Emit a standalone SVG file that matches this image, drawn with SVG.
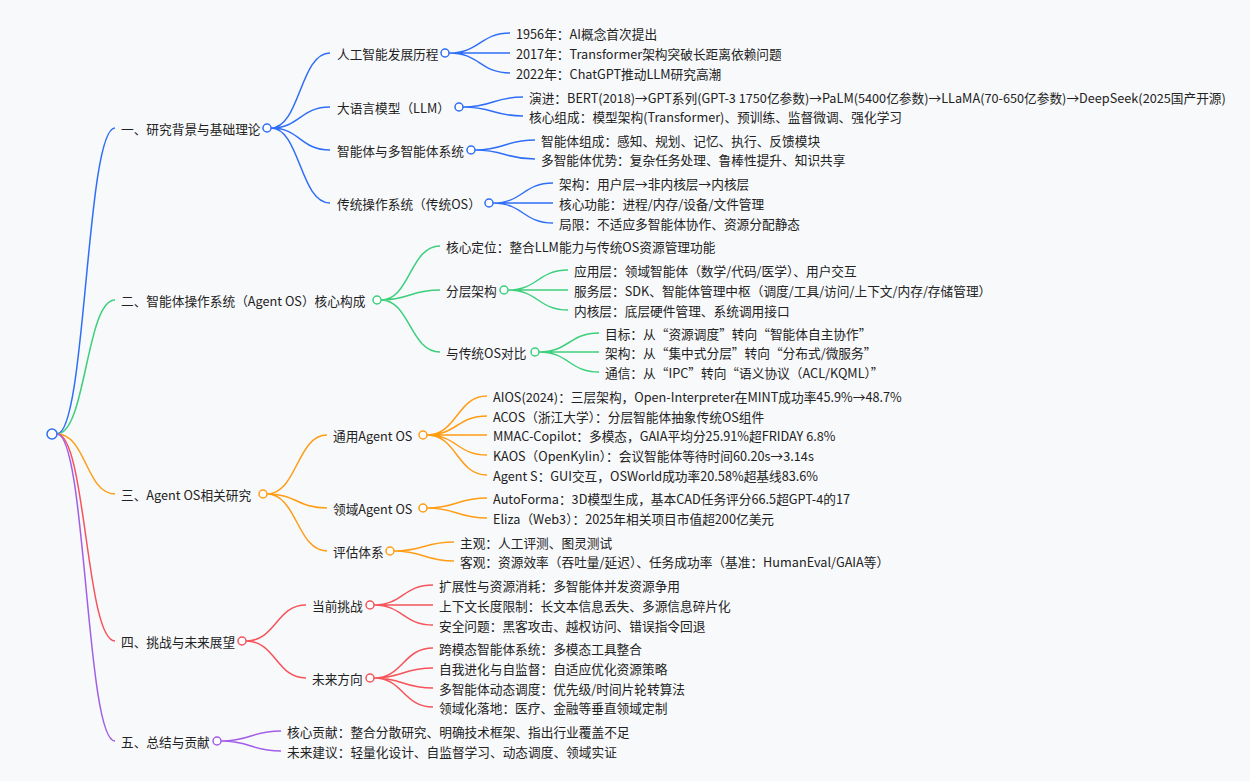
<svg xmlns="http://www.w3.org/2000/svg" width="1250" height="781" viewBox="0 0 1250 781">
<style>
text{font-family:"Microsoft YaHei","Noto Sans CJK SC","Noto Sans",sans-serif;font-size:12.7px;fill:#222;dominant-baseline:central}
path{fill:none;stroke-width:1.5}
circle{fill:#fff;stroke-width:1.5}
.b{stroke:#2f6ef6}.g{stroke:#3ccf7c}.o{stroke:#ff9d14}.r{stroke:#f4545a}.p{stroke:#a25ee8}
</style>
<rect width="1250" height="781" fill="#f8f9fb"/>
<g id="connectors">
<path class="b" d="M57 434C86 434 86 128 115 128"/>
<path class="g" d="M57 434C86 434 86 300 115 300"/>
<path class="o" d="M57 434C86 434 86 494 115 494"/>
<path class="r" d="M57 434C86 434 86 641 115 641"/>
<path class="p" d="M57 434C86 434 86 741 115 741"/>
<path class="b" d="M271 128C300 128 300 53 330 53M271 128C300 128 300 107 330 107M271 128C300 128 300 150 330 150M271 128C300 128 300 203 330 203"/>
<path class="b" d="M449 53C480 53 480 33 510 33M449 53H510M449 53C480 53 480 73 510 73"/>
<path class="b" d="M463 107C493 107 493 97 523 97M463 107C493 107 493 116 523 116"/>
<path class="b" d="M475 150C505 150 505 140 535 140M475 150C505 150 505 159 535 159"/>
<path class="b" d="M493 203C523 203 523 183 553 183M493 203H553M493 203C523 203 523 223 553 223"/>
<path class="g" d="M381 300C410 300 410 246 440 246M381 300C410 300 410 290 440 290M381 300C410 300 410 352 440 352"/>
<path class="g" d="M508 290C538 290 538 270 568 270M508 290H568M508 290C538 290 538 310 568 310"/>
<path class="g" d="M539 352C569 352 569 333 599 333M539 352H599M539 352C569 352 569 372 599 372"/>
<path class="o" d="M267 494C297 494 297 435 327 435M267 494C297 494 297 508 327 508M267 494C297 494 297 551 327 551"/>
<path class="o" d="M427 435C457 435 457 396 487 396M427 435C457 435 457 416 487 416M427 435H487M427 435C457 435 457 455 487 455M427 435C457 435 457 475 487 475"/>
<path class="o" d="M427 508C457 508 457 498 487 498M427 508C457 508 457 518 487 518"/>
<path class="o" d="M394 551C424 551 424 542 454 542M394 551C424 551 424 561 454 561"/>
<path class="r" d="M246 641C276 641 276 605 306 605M246 641C276 641 276 678 306 678"/>
<path class="r" d="M374 605C403 605 403 585 433 585M374 605H433M374 605C403 605 403 625 433 625"/>
<path class="r" d="M374 678C403 678 403 648 433 648M374 678C403 678 403 668 433 668M374 678C403 678 403 688 433 688M374 678C403 678 403 707 433 707"/>
<path class="p" d="M221 741C251 741 251 731 281 731M221 741C251 741 251 751 281 751"/>
</g>
<g id="root"><circle class="b" cx="52" cy="434" r="5"/></g>
<g id="n1"><text x="121" y="128">一、研究背景与基础理论</text><circle class="b" cx="267" cy="128" r="4"/></g>
<g id="n1a"><text x="337" y="53">人工智能发展历程</text><circle class="b" cx="445" cy="53" r="4"/></g>
<g id="n1a1"><text x="516" y="33">1956年：AI概念首次提出</text></g>
<g id="n1a2"><text x="516" y="53">2017年：Transformer架构突破长距离依赖问题</text></g>
<g id="n1a3"><text x="516" y="73">2022年：ChatGPT推动LLM研究高潮</text></g>
<g id="n1b"><text x="337" y="107">大语言模型（LLM）</text><circle class="b" cx="459" cy="107" r="4"/></g>
<g id="n1b1"><text x="529" y="97">演进：BERT(2018)→GPT系列(GPT-3 1750亿参数)→PaLM(5400亿参数)→LLaMA(70-650亿参数)→DeepSeek(2025国产开源)</text></g>
<g id="n1b2"><text x="529" y="116">核心组成：模型架构(Transformer)、预训练、监督微调、强化学习</text></g>
<g id="n1c"><text x="337" y="150">智能体与多智能体系统</text><circle class="b" cx="471" cy="150" r="4"/></g>
<g id="n1c1"><text x="541" y="140">智能体组成：感知、规划、记忆、执行、反馈模块</text></g>
<g id="n1c2"><text x="541" y="159">多智能体优势：复杂任务处理、鲁棒性提升、知识共享</text></g>
<g id="n1d"><text x="337" y="203">传统操作系统（传统OS）</text><circle class="b" cx="489" cy="203" r="4"/></g>
<g id="n1d1"><text x="559" y="183">架构：用户层→非内核层→内核层</text></g>
<g id="n1d2"><text x="559" y="203">核心功能：进程/内存/设备/文件管理</text></g>
<g id="n1d3"><text x="559" y="223">局限：不适应多智能体协作、资源分配静态</text></g>
<g id="n2"><text x="121" y="300">二、智能体操作系统（Agent OS）核心构成</text><circle class="g" cx="377" cy="300" r="4"/></g>
<g id="n2a"><text x="446" y="246">核心定位：整合LLM能力与传统OS资源管理功能</text></g>
<g id="n2b"><text x="446" y="290">分层架构</text><circle class="g" cx="504" cy="290" r="4"/></g>
<g id="n2b1"><text x="574" y="270">应用层：领域智能体（数学/代码/医学）、用户交互</text></g>
<g id="n2b2"><text x="574" y="290">服务层：SDK、智能体管理中枢（调度/工具/访问/上下文/内存/存储管理）</text></g>
<g id="n2b3"><text x="574" y="310">内核层：底层硬件管理、系统调用接口</text></g>
<g id="n2c"><text x="446" y="352">与传统OS对比</text><circle class="g" cx="535" cy="352" r="4"/></g>
<g id="n2c1"><text x="605" y="333">目标：从“资源调度”转向“智能体自主协作”</text></g>
<g id="n2c2"><text x="605" y="352">架构：从“集中式分层”转向“分布式/微服务”</text></g>
<g id="n2c3"><text x="605" y="372">通信：从“IPC”转向“语义协议（ACL/KQML）”</text></g>
<g id="n3"><text x="121" y="494">三、Agent OS相关研究</text><circle class="o" cx="263" cy="494" r="4"/></g>
<g id="n3a"><text x="333" y="435">通用Agent OS</text><circle class="o" cx="423" cy="435" r="4"/></g>
<g id="n3a1"><text x="493" y="396">AIOS(2024)：三层架构，Open-Interpreter在MINT成功率45.9%→48.7%</text></g>
<g id="n3a2"><text x="493" y="416">ACOS（浙江大学）：分层智能体抽象传统OS组件</text></g>
<g id="n3a3"><text x="493" y="435">MMAC-Copilot：多模态，GAIA平均分25.91%超FRIDAY 6.8%</text></g>
<g id="n3a4"><text x="493" y="455">KAOS（OpenKylin）：会议智能体等待时间60.20s→3.14s</text></g>
<g id="n3a5"><text x="493" y="475">Agent S：GUI交互，OSWorld成功率20.58%超基线83.6%</text></g>
<g id="n3b"><text x="333" y="508">领域Agent OS</text><circle class="o" cx="423" cy="508" r="4"/></g>
<g id="n3b1"><text x="493" y="498">AutoForma：3D模型生成，基本CAD任务评分66.5超GPT-4的17</text></g>
<g id="n3b2"><text x="493" y="518">Eliza（Web3）：2025年相关项目市值超200亿美元</text></g>
<g id="n3c"><text x="333" y="551">评估体系</text><circle class="o" cx="390" cy="551" r="4"/></g>
<g id="n3c1"><text x="460" y="542">主观：人工评测、图灵测试</text></g>
<g id="n3c2"><text x="460" y="561">客观：资源效率（吞吐量/延迟）、任务成功率（基准：HumanEval/GAIA等）</text></g>
<g id="n4"><text x="121" y="641">四、挑战与未来展望</text><circle class="r" cx="242" cy="641" r="4"/></g>
<g id="n4a"><text x="312" y="605">当前挑战</text><circle class="r" cx="370" cy="605" r="4"/></g>
<g id="n4a1"><text x="439" y="585">扩展性与资源消耗：多智能体并发资源争用</text></g>
<g id="n4a2"><text x="439" y="605">上下文长度限制：长文本信息丢失、多源信息碎片化</text></g>
<g id="n4a3"><text x="439" y="625">安全问题：黑客攻击、越权访问、错误指令回退</text></g>
<g id="n4b"><text x="312" y="678">未来方向</text><circle class="r" cx="370" cy="678" r="4"/></g>
<g id="n4b1"><text x="439" y="648">跨模态智能体系统：多模态工具整合</text></g>
<g id="n4b2"><text x="439" y="668">自我进化与自监督：自适应优化资源策略</text></g>
<g id="n4b3"><text x="439" y="688">多智能体动态调度：优先级/时间片轮转算法</text></g>
<g id="n4b4"><text x="439" y="707">领域化落地：医疗、金融等垂直领域定制</text></g>
<g id="n5"><text x="121" y="741">五、总结与贡献</text><circle class="p" cx="217" cy="741" r="4"/></g>
<g id="n5a"><text x="287" y="731">核心贡献：整合分散研究、明确技术框架、指出行业覆盖不足</text></g>
<g id="n5b"><text x="287" y="751">未来建议：轻量化设计、自监督学习、动态调度、领域实证</text></g>
</svg>
